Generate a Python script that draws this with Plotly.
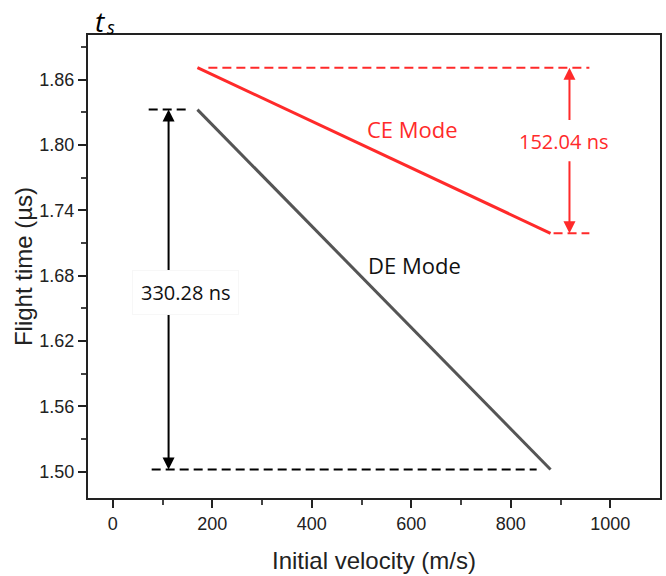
import plotly.graph_objects as go

# Data
velocity = [170, 880]
ce_time = [1.871, 1.719]
de_time = [1.8325, 1.5022]
ce_label = "CE Mode"
de_label = "DE Mode"
de_diff_label = "330.28 ns"
ce_diff_label = "152.04 ns"
x_ticks = [0, 200, 400, 600, 800, 1000]
y_ticks = [1.50, 1.56, 1.62, 1.68, 1.74, 1.80, 1.86]

# reference helper lines
de_top_dash_x = [72, 156]
de_bot_dash_x = [78, 852]
ce_top_dash_x = [192, 958]
ce_bot_dash_x = [886, 958]
de_arrow_x = 112
ce_arrow_x = 918

RED = "#ff2a2a"
DARK = "#555555"

fig = go.Figure()
fig.add_trace(go.Scatter(x=velocity, y=ce_time, mode="lines",
                         line=dict(color=RED, width=3), showlegend=False))
fig.add_trace(go.Scatter(x=velocity, y=de_time, mode="lines",
                         line=dict(color=DARK, width=3), showlegend=False))
# dashed guides
dash = "9px,5px"
fig.add_trace(go.Scatter(x=de_top_dash_x, y=[de_time[0]] * 2, mode="lines",
                         line=dict(color="black", width=2, dash=dash), showlegend=False))
fig.add_trace(go.Scatter(x=de_bot_dash_x, y=[de_time[1]] * 2, mode="lines",
                         line=dict(color="black", width=2, dash=dash), showlegend=False))
fig.add_trace(go.Scatter(x=ce_top_dash_x, y=[ce_time[0]] * 2, mode="lines",
                         line=dict(color=RED, width=2, dash=dash), showlegend=False))
fig.add_trace(go.Scatter(x=ce_bot_dash_x, y=[ce_time[1]] * 2, mode="lines",
                         line=dict(color=RED, width=2, dash=dash), showlegend=False))

FONT = "Open Sans, Noto Sans, sans-serif"

def arrow(x, y_from, y_to, color):
    fig.add_annotation(x=x, y=y_to, ax=x, ay=y_from, xref="x", yref="y",
                       axref="x", ayref="y", text="", showarrow=True,
                       arrowhead=2, arrowsize=1.2, arrowwidth=2, arrowcolor=color)

# DE arrows (gap around label)
arrow(de_arrow_x, 1.681, de_time[0], "black")
arrow(de_arrow_x, 1.647, de_time[1], "black")
# CE arrows
arrow(ce_arrow_x, 1.8215, ce_time[0], RED)
arrow(ce_arrow_x, 1.7866, ce_time[1], RED)

fig.add_annotation(x=146, y=1.6646, text=de_diff_label, showarrow=False,
                   font=dict(color="#111", family=FONT, size=20), bgcolor="white",
                   bordercolor="#f7f7f7", borderwidth=1, borderpad=8)
fig.add_annotation(x=906, y=1.803, text=ce_diff_label, showarrow=False,
                   font=dict(color=RED, family=FONT, size=20), bgcolor="white")
fig.add_annotation(x=602, y=1.815, text=ce_label, showarrow=False,
                   font=dict(color=RED, family=FONT, size=22))
fig.add_annotation(x=606, y=1.690, text=de_label, showarrow=False,
                   font=dict(color="#111", family=FONT, size=22))
# title t_s drawn as two pieces so its box stays inside the page
fig.add_annotation(x=0.010, y=1.0734, xref="paper", yref="paper", xanchor="left",
                   yanchor="top", text="<i>t</i>", showarrow=False, borderpad=0,
                   font=dict(family=FONT, size=28, color="black"))
fig.add_annotation(x=0.031, y=1.045, xref="paper", yref="paper", xanchor="left",
                   yanchor="top", text="<i>s</i>", showarrow=False, borderpad=0,
                   font=dict(family=FONT, size=18, color="black"))

TICKFONT = "Liberation Sans, Arial, sans-serif"
axis_common = dict(showline=True, linecolor="#222", linewidth=2, mirror=True,
                   ticks="outside", ticklen=8, tickwidth=2, tickcolor="#222",
                   showgrid=False, zeroline=False,
                   tickfont=dict(family=TICKFONT, size=18, color="#222"))

fig.update_xaxes(range=[-50, 1100], tickvals=x_ticks, **axis_common,
                 minor=dict(ticks="outside", ticklen=5, tickwidth=1.5, tickcolor="#444",
                            tickvals=[100, 300, 500, 700, 900]),
                 title=dict(text="Initial velocity (m/s)", standoff=20,
                            font=dict(family=TICKFONT, size=24, color="#222")))
fig.update_yaxes(range=[1.476, 1.901], tickvals=y_ticks, tickformat=".2f", **axis_common,
                 minor=dict(ticks="outside", ticklen=5, tickwidth=1.5, tickcolor="#444",
                            tickvals=[1.53, 1.59, 1.65, 1.71, 1.77, 1.83, 1.89]),
                 title=dict(text="Flight time (µs)", standoff=0,
                            font=dict(family=TICKFONT, size=24, color="#222")))

fig.update_layout(width=666, height=576, plot_bgcolor="white", paper_bgcolor="white",
                  margin=dict(l=88, r=4, t=35, b=78))
fig.write_html("out.html")
